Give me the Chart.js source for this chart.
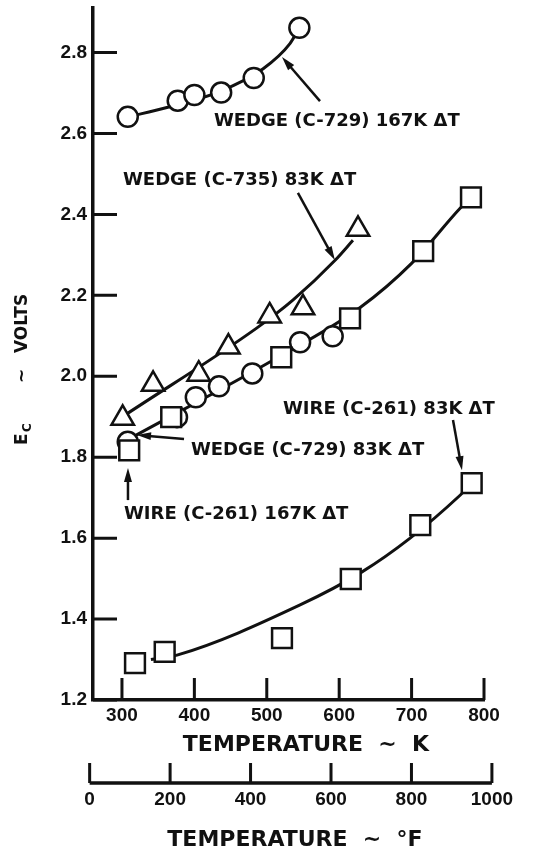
<!DOCTYPE html>
<html lang="en">
<head>
<meta charset="UTF-8">
<title>Ec vs temperature</title>
<script src="https://cdn.jsdelivr.net/npm/chart.js@4"></script>
<style>
  html, body { margin: 0; padding: 0; background: #fff; }
  #wrap { width: 538px; height: 868px; }
</style>
</head>
<body>
<div id="wrap"><canvas id="ecChart" width="538" height="868"></canvas></div>
<script>
// measured points: temperature (K) / Ec (volts)
const wedge729hiT = [308, 377, 400, 437, 482, 545];
const wedge729hiE = [2.641, 2.681, 2.695, 2.701, 2.737, 2.861];

const wedge735T = [301, 343, 406, 447, 504, 550, 626];
const wedge735E = [1.896, 1.980, 2.005, 2.072, 2.149, 2.169, 2.363];

const wedge729loT = [308, 376, 402, 434, 480, 546, 591];
const wedge729loE = [1.838, 1.899, 1.948, 1.975, 2.007, 2.084, 2.099];

const wire261hiT = [310, 368, 520, 615, 716, 782];
const wire261hiE = [1.817, 1.899, 2.047, 2.143, 2.309, 2.442];

const wire261loT = [318, 359, 521, 616, 712, 783];
const wire261loE = [1.291, 1.319, 1.353, 1.499, 1.632, 1.736];

// faired curves
const curveTopT = [308, 362, 434, 495, 532, 545];
const curveTopE = [2.641, 2.664, 2.703, 2.760, 2.822, 2.861];
const curve735T = [305, 486, 536, 594, 619];
const curve735E = [1.905, 2.119, 2.188, 2.286, 2.336];
const curveMidT = [315, 509, 629, 700, 767, 782];
const curveMidE = [1.850, 2.040, 2.170, 2.279, 2.415, 2.442];
const curveLowT = [340, 376, 546, 631, 698, 767, 781];
const curveLowE = [1.300, 1.311, 1.435, 1.516, 1.600, 1.706, 1.731];

// axis ticks
const kelvinTicks = [300, 400, 500, 600, 700, 800];
const voltTicks = [1.2, 1.4, 1.6, 1.8, 2.0, 2.2, 2.4, 2.6, 2.8];
const fahrTicks = [0, 200, 400, 600, 800, 1000];

const ink = '#111';
const toF = k => k * 1.8 - 459.67;
const pts = (xs, ys) => xs.map((x, i) => ({x: x, y: ys[i]}));

// callouts, placed in data units
const callouts = [
    {text: 'WEDGE (C-729) 167K \u0394T', x: 427, y: 2.631},
    {text: 'WEDGE (C-735) 83K \u0394T', x: 301.4, y: 2.485},
    {text: 'WEDGE (C-729) 83K \u0394T', x: 395.3, y: 1.818},
    {text: 'WIRE (C-261) 167K \u0394T', x: 302.8, y: 1.658},
    {text: 'WIRE (C-261) 83K \u0394T', x: 522.4, y: 1.918}
];
const arrows = [
    {from: [573.5, 2.680], to: [521, 2.789]},
    {from: [543, 2.453], to: [594, 2.287]},
    {from: [385.7, 1.845], to: [320.8, 1.855]},
    {from: [308.3, 1.694], to: [308.3, 1.773]},
    {from: [757.2, 1.892], to: [769.6, 1.768]}
];

function markers(label, xs, ys, style, r) {
    return {
        label: label,
        data: pts(xs, ys),
        showLine: false,
        pointStyle: style,
        pointRadius: r,
        pointHoverRadius: r,
        pointBorderWidth: 2.5,
        pointBorderColor: ink,
        pointBackgroundColor: '#fff',
        order: 0
    };
}

function curve(xs, ys) {
    return {
        data: pts(xs, ys),
        showLine: true,
        pointRadius: 0,
        borderColor: ink,
        borderWidth: 3,
        cubicInterpolationMode: 'monotone',
        order: 1
    };
}

function arrow(ctx, x0, y0, x1, y1) {
    const a = Math.atan2(y1 - y0, x1 - x0);
    const len = 14, half = 4;
    const c = Math.cos(a), s = Math.sin(a);
    ctx.lineWidth = 2.5;
    ctx.beginPath();
    ctx.moveTo(x0, y0);
    ctx.lineTo(x1 - c * len * 0.8, y1 - s * len * 0.8);
    ctx.stroke();
    ctx.beginPath();
    ctx.moveTo(x1, y1);
    ctx.lineTo(x1 - c * len + s * half, y1 - s * len - c * half);
    ctx.lineTo(x1 - c * len - s * half, y1 - s * len + c * half);
    ctx.closePath();
    ctx.fill();
}

// inward ticks, the °F axis, callouts and axis titles
const decorations = {
    id: 'decorations',
    afterDraw(chart) {
        const {ctx, chartArea: area} = chart;
        const {x, y, f} = chart.scales;
        ctx.save();
        ctx.strokeStyle = ink;
        ctx.fillStyle = ink;

        ctx.lineWidth = 3;
        ctx.beginPath();
        x.ticks.forEach(t => {
            const px = x.getPixelForValue(t.value);
            ctx.moveTo(px, area.bottom);
            ctx.lineTo(px, area.bottom - 22);
        });
        y.ticks.forEach(t => {
            const py = y.getPixelForValue(t.value);
            ctx.moveTo(area.left, py);
            ctx.lineTo(area.left + 24, py);
        });
        ctx.stroke();

        const fStart = f.getPixelForValue(fahrTicks[0]);
        const fEnd = f.getPixelForValue(fahrTicks[fahrTicks.length - 1]);
        ctx.lineWidth = 3.5;
        ctx.beginPath();
        ctx.moveTo(fStart, f.top);
        ctx.lineTo(fEnd, f.top);
        ctx.stroke();
        ctx.lineWidth = 3;
        ctx.beginPath();
        f.ticks.forEach(t => {
            const px = f.getPixelForValue(t.value);
            ctx.moveTo(px, f.top);
            ctx.lineTo(px, f.top - 20);
        });
        ctx.stroke();

        ctx.font = 'bold 18px "DejaVu Sans"';
        ctx.textAlign = 'left';
        ctx.textBaseline = 'middle';
        callouts.forEach(c => {
            ctx.fillText(c.text, x.getPixelForValue(c.x), y.getPixelForValue(c.y));
        });
        arrows.forEach(a => {
            arrow(ctx, x.getPixelForValue(a.from[0]), y.getPixelForValue(a.from[1]),
                  x.getPixelForValue(a.to[0]), y.getPixelForValue(a.to[1]));
        });

        // axis titles
        ctx.font = 'bold 22px "DejaVu Sans"';
        ctx.textAlign = 'center';
        ctx.fillText('TEMPERATURE  ~  K', area.left + 213, area.bottom + 45);
        ctx.fillText('TEMPERATURE  ~  \u00B0F', area.left + 202, area.bottom + 140);

        ctx.translate(23, area.bottom - 255);
        ctx.rotate(-Math.PI / 2);
        ctx.textAlign = 'left';
        ctx.font = 'bold 17px "DejaVu Sans"';
        ctx.fillText('E', 0, 0);
        ctx.fillText('~', 62, 0);
        ctx.fillText('VOLTS', 92, 0);
        ctx.font = 'bold 12px "DejaVu Sans"';
        ctx.fillText('C', 13, 5);
        ctx.restore();
    }
};

const tickFont = {family: '"Liberation Sans", Arial, sans-serif', weight: 'bold', size: 19};

new Chart(document.getElementById('ecChart'), {
    type: 'scatter',
    data: {
        datasets: [
            markers('Wire (C-261) 167K', wire261hiT, wire261hiE, 'rect', 14),
            markers('Wire (C-261) 83K', wire261loT, wire261loE, 'rect', 14),
            markers('Wedge (C-729) 167K', wedge729hiT, wedge729hiE, 'circle', 10),
            markers('Wedge (C-729) 83K', wedge729loT, wedge729loE, 'circle', 10),
            markers('Wedge (C-735) 83K', wedge735T, wedge735E, 'triangle', 13),
            curve(curveTopT, curveTopE),
            curve(curve735T, curve735E),
            curve(curveMidT, curveMidE),
            curve(curveLowT, curveLowE)
        ]
    },
    options: {
        responsive: false,
        animation: false,
        devicePixelRatio: 1,
        layout: {autoPadding: false, padding: {left: 0, right: 54, top: 8, bottom: 0}},
        plugins: {legend: {display: false}, tooltip: {enabled: false}},
        scales: {
            x: {
                type: 'linear',
                position: 'bottom',
                weight: 0,
                min: 260,
                max: 800,
                afterBuildTicks: s => { s.ticks = kelvinTicks.map(v => ({value: v})); },
                afterFit: s => { s.height = 83; s.paddingLeft = 0; s.paddingRight = 0; },
                grid: {display: false, drawTicks: false},
                border: {display: true, width: 3.5, color: ink},
                ticks: {color: ink, font: tickFont, padding: 4, maxRotation: 0, autoSkip: false,
                        callback: v => String(v)}
            },
            f: {
                type: 'linear',
                position: 'bottom',
                weight: 1,
                min: toF(260),
                max: toF(800),
                afterBuildTicks: s => { s.ticks = fahrTicks.map(v => ({value: v})); },
                afterFit: s => { s.height = 85; s.paddingLeft = 0; s.paddingRight = 0; },
                grid: {display: false, drawTicks: false},
                border: {display: false},
                ticks: {color: ink, font: tickFont, padding: 5, maxRotation: 0, autoSkip: false,
                        callback: v => String(v)}
            },
            y: {
                type: 'linear',
                min: 1.2,
                max: 2.91,
                afterBuildTicks: s => { s.ticks = voltTicks.map(v => ({value: v})); },
                afterFit: s => { s.width = 93; s.paddingTop = 0; s.paddingBottom = 0; },
                grid: {display: false, drawTicks: false},
                border: {display: true, width: 3.5, color: ink},
                ticks: {color: ink, font: tickFont, padding: 6, autoSkip: false,
                        callback: v => v.toFixed(1)}
            }
        }
    },
    plugins: [decorations]
});
</script>
</body>
</html>
